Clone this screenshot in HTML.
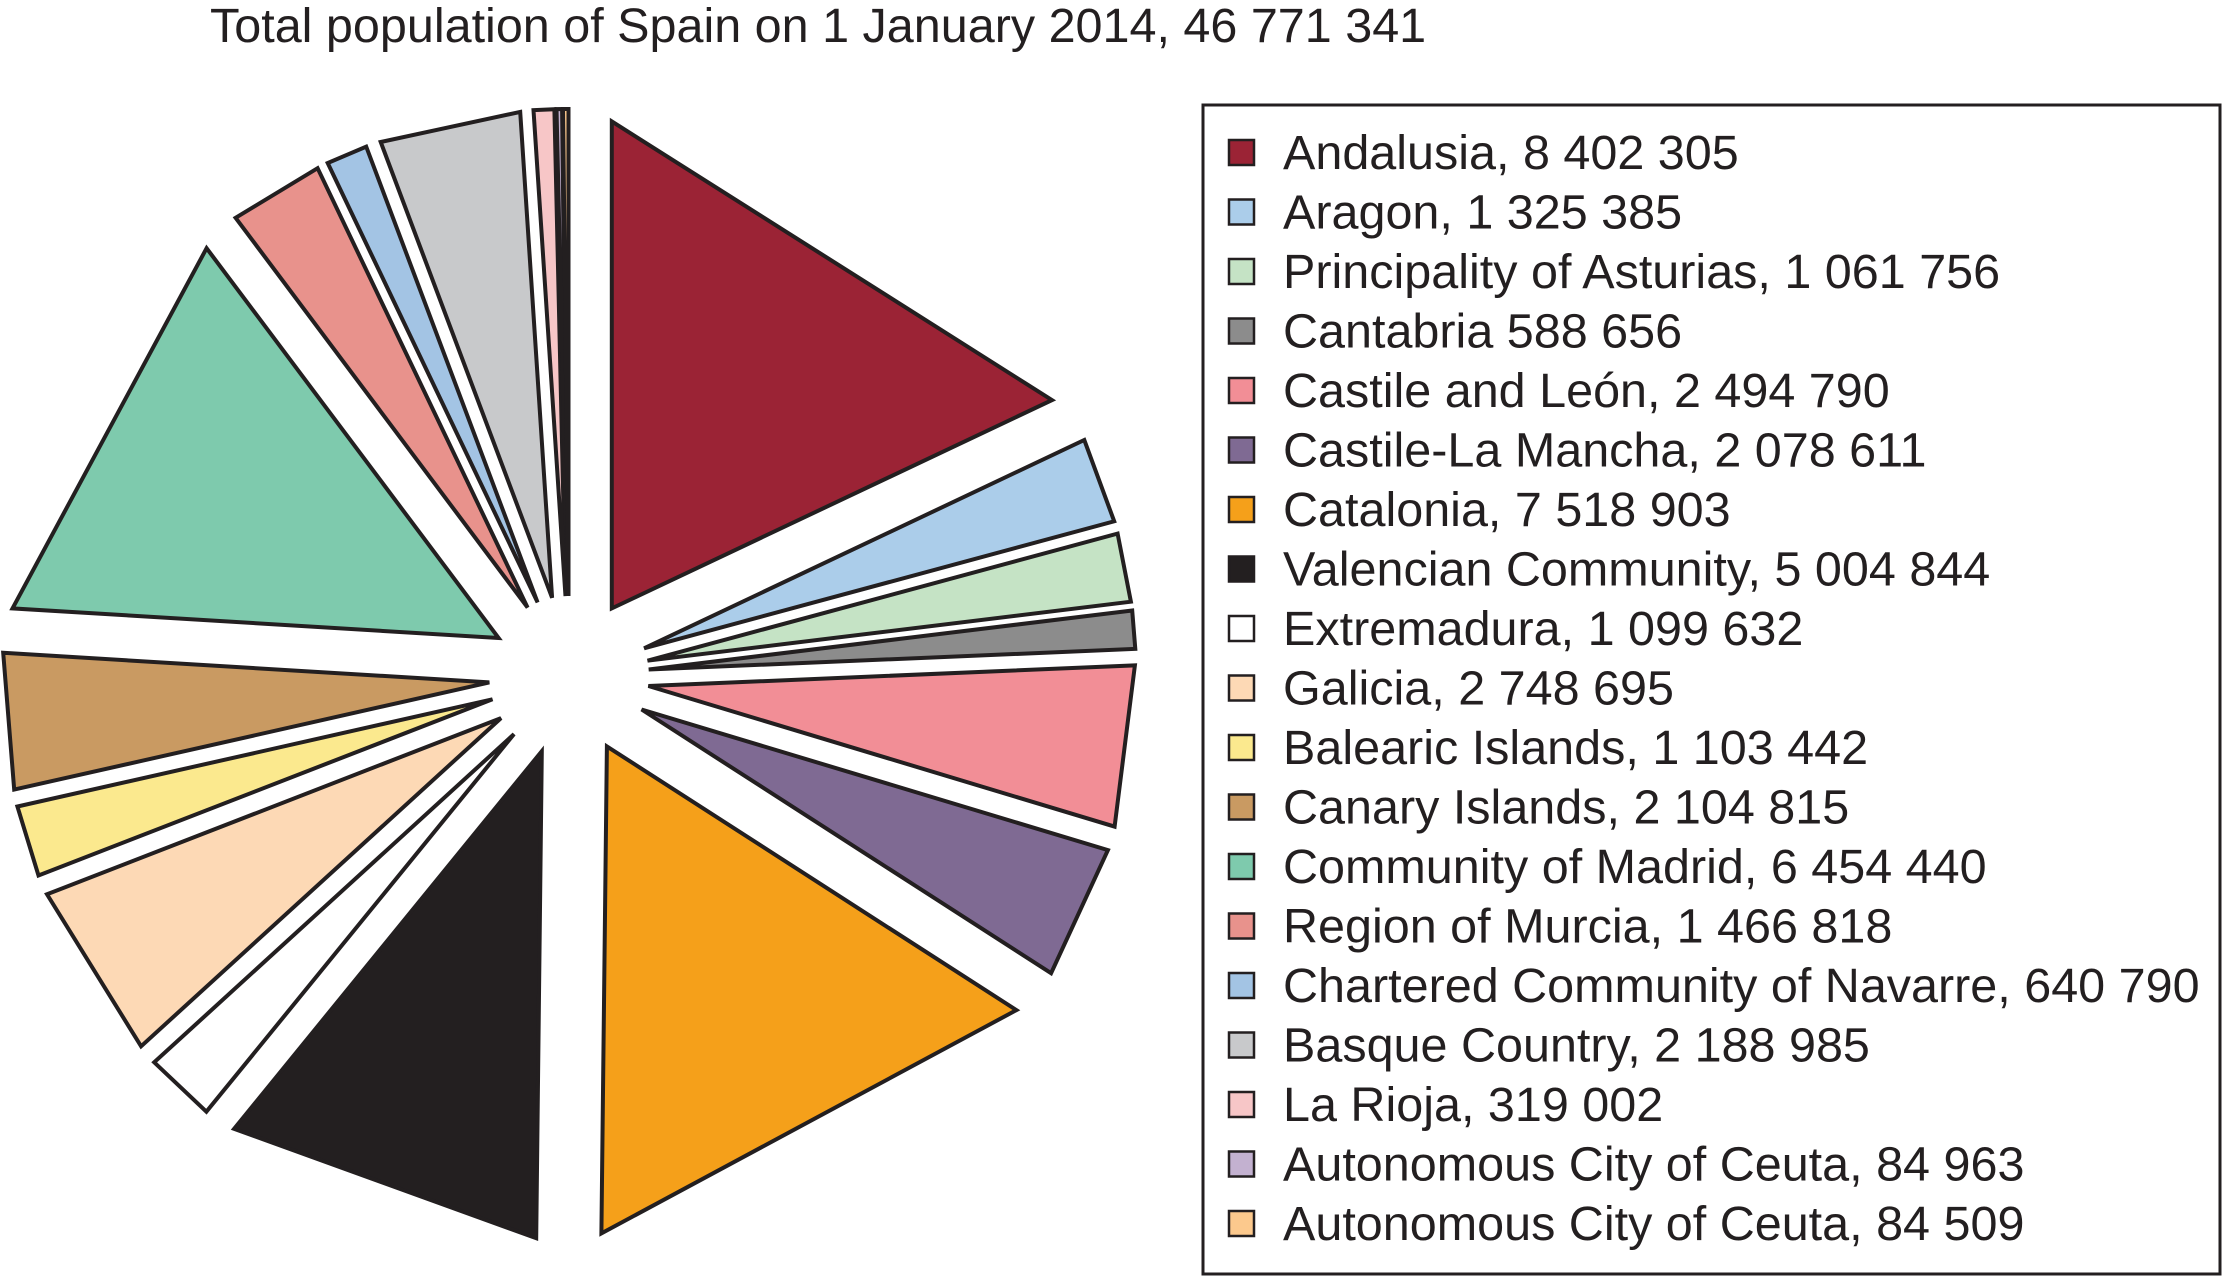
<!DOCTYPE html>
<html><head><meta charset="utf-8"><style>
html,body{margin:0;padding:0;background:#fff;}
svg{display:block;font-family:"Liberation Sans",Arial,sans-serif;}
</style></head><body>
<svg id="chart" width="2228" height="1278" viewBox="0 0 2228 1278">
<text x="210" y="42" font-size="48.5" fill="#231f20">Total population of Spain on 1 January 2014, 46 771 341</text>
<rect x="1203" y="105" width="1017" height="1169" fill="none" stroke="#231f20" stroke-width="3"/>
<g id="slices"></g>
<g id="legend"></g>
</svg>
<script>
const categories = ["Andalusia","Aragon","Principality of Asturias","Cantabria","Castile and León","Castile-La Mancha","Catalonia","Valencian Community","Extremadura","Galicia","Balearic Islands","Canary Islands","Community of Madrid","Region of Murcia","Chartered Community of Navarre","Basque Country","La Rioja","Autonomous City of Ceuta","Autonomous City of Ceuta"];
const values = [8402305,1325385,1061756,588656,2494790,2078611,7518903,5004844,1099632,2748695,1103442,2104815,6454440,1466818,640790,2188985,319002,84963,84509];
const labels = ["Andalusia, 8 402 305","Aragon, 1 325 385","Principality of Asturias, 1 061 756","Cantabria 588 656","Castile and León, 2 494 790","Castile-La Mancha, 2 078 611","Catalonia, 7 518 903","Valencian Community, 5 004 844","Extremadura, 1 099 632","Galicia, 2 748 695","Balearic Islands, 1 103 442","Canary Islands, 2 104 815","Community of Madrid, 6 454 440","Region of Murcia, 1 466 818","Chartered Community of Navarre, 640 790","Basque Country, 2 188 985","La Rioja, 319 002","Autonomous City of Ceuta, 84 963","Autonomous City of Ceuta, 84 509"];
const colors = ["#9b2335","#abcdea","#c5e3c5","#8c8c8c","#f28e96","#7f6a93","#f5a01a","#231f20","#ffffff","#fdd9b5","#fbe98e","#c99a62","#7ecaad","#e8928c","#a3c4e4","#c8c9cb","#f7c6c7","#c3b1d0","#fcc98d"];

const NS="http://www.w3.org/2000/svg";
const cx=569, cy=676, R=487, explode=80;
const total=values.reduce((a,b)=>a+b,0);
function dir(f){const a=f*2*Math.PI;return [Math.sin(a),-Math.cos(a)];}
const sg=document.getElementById('slices');
let cum=0;
values.forEach((v,i)=>{
  const f0=cum/total, f1=(cum+v)/total; cum+=v;
  const b=dir((f0+f1)/2);
  const ax=cx+explode*b[0], ay=cy+explode*b[1];
  const d0=dir(f0), d1=dir(f1);
  const p=document.createElementNS(NS,'polygon');
  p.setAttribute('points',[ax,ay,ax+R*d0[0],ay+R*d0[1],ax+R*d1[0],ay+R*d1[1]].map(n=>n.toFixed(1)).join(' '));
  p.setAttribute('fill',colors[i]);
  p.setAttribute('stroke','#231f20');
  p.setAttribute('stroke-width','4');
  p.setAttribute('stroke-linejoin','miter');
  
  
  sg.appendChild(p);
});
const lg=document.getElementById('legend');
labels.forEach((t,i)=>{
  const y=152+i*59.5;
  const g=document.createElementNS(NS,'g');
  
  
  const r=document.createElementNS(NS,'rect');
  r.setAttribute('x',1229);r.setAttribute('y',y-12);
  r.setAttribute('width',25);r.setAttribute('height',25);
  r.setAttribute('fill',colors[i]);r.setAttribute('stroke','#231f20');r.setAttribute('stroke-width','2.5');
  
  
  const tx=document.createElementNS(NS,'text');
  tx.setAttribute('x',1283);tx.setAttribute('y',y+17);
  tx.setAttribute('font-size','48.5');tx.setAttribute('fill','#231f20');
  tx.textContent=t;
  
  
  g.appendChild(r);g.appendChild(tx);lg.appendChild(g);
});
</script>
</body></html>
